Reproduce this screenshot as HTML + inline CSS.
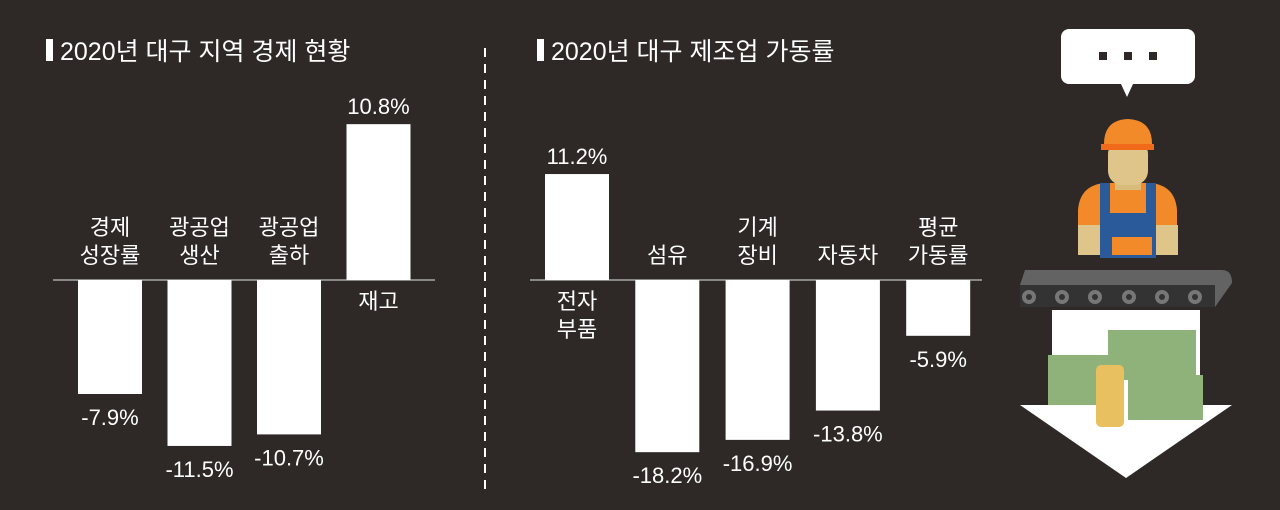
<!DOCTYPE html>
<html><head><meta charset="utf-8">
<style>
html,body{margin:0;padding:0;background:#2e2927;}
svg{display:block;}
text{font-family:"Liberation Sans","Noto Sans CJK KR",sans-serif;fill:#fff;}
</style></head>
<body>
<svg id="chart" width="1280" height="510" viewBox="0 0 1280 510" xmlns="http://www.w3.org/2000/svg">
<rect width="1280" height="510" fill="#2e2927"/>
<g>
<rect x="46" y="39" width="7" height="22" fill="#fff"/>
<text x="60" y="60" font-size="25">2020년 대구 지역 경제 현황</text>
</g>
<g>
<rect x="537" y="39" width="7" height="22" fill="#fff"/>
<text x="551" y="60" font-size="25">2020년 대구 제조업 가동률</text>
</g>
<line x1="485" y1="48" x2="485" y2="490" stroke="#fff" stroke-width="2" stroke-dasharray="9,7"/>
<g id="left"></g>
<g id="right"></g>

<g>
<rect x="1061" y="29" width="134" height="55" rx="8" fill="#fff"/>
<polygon points="1121,84 1133,84 1127,97" fill="#fff"/>
<rect x="1099" y="52" width="8" height="8" fill="#2e2927"/><rect x="1124" y="52" width="8" height="8" fill="#2e2927"/><rect x="1149" y="52" width="8" height="8" fill="#2e2927"/>
<path d="M1078 252 L1078 210 Q1080 185 1105 183 L1150 183 Q1175 185 1177 210 L1177 252 Z" fill="#f28a2a"/>
<rect x="1100" y="183" width="10" height="70" fill="#2a5a9a"/><rect x="1146" y="183" width="10" height="70" fill="#2a5a9a"/>
<rect x="1100" y="213" width="56" height="45" fill="#2a5a9a"/>
<rect x="1078" y="225" width="22" height="30" fill="#e0c58a"/><rect x="1156" y="225" width="22" height="30" fill="#e0c58a"/>
<rect x="1112" y="237" width="40" height="18" fill="#f28a2a"/>
<rect x="1115" y="170" width="26" height="20" fill="#d8bd7a"/>
<rect x="1108" y="140" width="40" height="45" rx="14" fill="#e0c58a"/>
<path d="M1104 144 Q1104 120 1128 119 Q1152 120 1152 144 Z" fill="#f28a2a"/>
<rect x="1101" y="144" width="53" height="6" fill="#f06a1a"/>
<path d="M1025 270 L1222 270 Q1232 270 1232 283 L1215 307 L1020 307 L1020 285 Z" fill="#636363"/>
<rect x="1020" y="285" width="195" height="22" fill="#333"/>
<g fill="none" stroke="#777" stroke-width="4">
<circle cx="1029" cy="297" r="5"/><circle cx="1062" cy="297" r="5"/><circle cx="1095" cy="297" r="5"/><circle cx="1129" cy="297" r="5"/><circle cx="1162" cy="297" r="5"/><circle cx="1195" cy="297" r="5"/>
</g>
<path d="M1052 310 L1200 310 L1200 405 L1232 405 L1126 478 L1020 405 L1052 405 Z" fill="#fff"/>
<rect x="1048" y="355" width="60" height="50" fill="#8fb27a"/>
<rect x="1108" y="330" width="88" height="50" fill="#8fb27a"/>
<rect x="1128" y="375" width="75" height="45" fill="#8fb27a"/>
<rect x="1096" y="365" width="28" height="62" rx="5" fill="#e8c060"/>
</g>

<script>
const leftCats1=["경제","광공업","광공업","재고"];
const leftCats2=["성장률","생산","출하",""];
const leftVals=[-7.9,-11.5,-10.7,10.8];
const leftLabels=["-7.9%","-11.5%","-10.7%","10.8%"];
const rightCats1=["전자","섬유","기계","자동차","평균"];
const rightCats2=["부품","","장비","","가동률"];
const rightVals=[11.2,-18.2,-16.9,-13.8,-5.9];
const rightLabels=["11.2%","-18.2%","-16.9%","-13.8%","-5.9%"];
const NS="http://www.w3.org/2000/svg";
function mk(tag,attrs,parent){const e=document.createElementNS(NS,tag);for(const k in attrs)e.setAttribute(k,attrs[k]);parent.appendChild(e);return e;}
function draw(gid,vals,labels,c1,c2,x0,step,w,scale,lx1,lx2){
  const g=document.getElementById(gid);
  const base=280;
  const y=v=>base-v*scale;
  const ax=mk('line',{x1:lx1,y1:base,x2:lx2,y2:base,stroke:'#888','stroke-width':2},g);
  
  
  vals.forEach((v,i)=>{
    const x=x0+i*step, cx=x+w/2;
    const top=Math.min(y(v),base), h=Math.abs(y(v)-base);
    const r=mk('rect',{x:x,y:top,width:w,height:h,fill:'#fff'},g);
    
    
    const t=mk('text',{x:cx,y:v>=0?top-10:base+h+31,'font-size':22,'text-anchor':'middle'},g);
    t.textContent=labels[i];
    
    
    let ly1,ly2;
    if(v>=0){ly1=base+29;ly2=base+57;}else{
      if(c2[i]){ly1=base-45;ly2=base-17;}else{ly1=base-17;ly2=0;}
    }
    const a=mk('text',{x:cx,y:ly1,'font-size':22,'text-anchor':'middle'},g);
    a.textContent=c1[i];
    
    
    if(c2[i]){
      const b=mk('text',{x:cx,y:ly2,'font-size':22,'text-anchor':'middle'},g);
      b.textContent=c2[i];
      
      
    }
  });
}
draw('left',leftVals,leftLabels,leftCats1,leftCats2,78,89.5,64,14.43,53,435);
draw('right',rightVals,rightLabels,rightCats1,rightCats2,545,90.3,64,9.46,530,982);
</script>
</svg>
</body></html>
